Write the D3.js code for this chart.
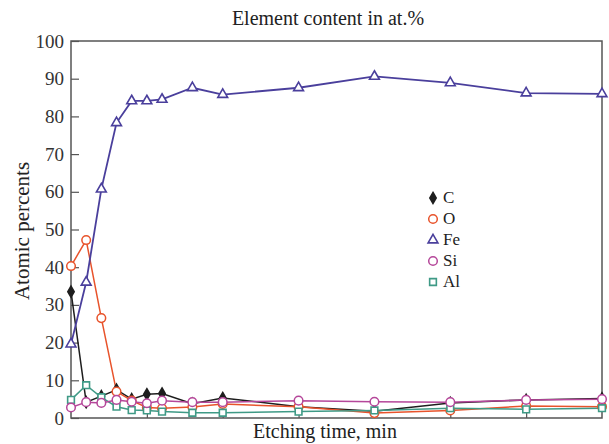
<!DOCTYPE html>
<html><head><meta charset="utf-8">
<script src="https://cdn.jsdelivr.net/npm/d3@7"></script>
<style>body{margin:0;background:#fff}svg{display:block}text{font-family:"Liberation Serif","DejaVu Serif",serif}</style>
</head><body><svg id="c" width="609" height="444"></svg>
<script>
const times = [0,1,2,3,4,5,6,8,10,15,20,25,30,35];
const C  = [33.5,4.2,5.8,7.5,5,6.3,6.5,3.8,5.3,3,1.8,4,4.8,5.2];
const O  = [40.3,47.2,26.5,7,4.6,2.8,2.6,2.9,3.7,3,1.3,2,3.2,3];
const Fe = [19.6,36,60.7,78.3,84.1,84.1,84.5,87.6,85.8,87.6,90.6,88.9,86.2,86];
const Si = [2.8,4.2,4,4.8,4.3,3.9,4.6,4.2,4.2,4.6,4.3,4.2,4.8,5];
const Al = [4.8,8.7,5.5,3,2.1,2,1.7,1.4,1.4,1.7,2,2.6,2.3,2.6];
const seriesNames = ["C","O","Fe","Si","Al"];
const yTicks = [0,10,20,30,40,50,60,70,80,90,100];
const xTicks = [5,10,15,20,25,30];

const colors = {C:"#1e1e1e",O:"#e8532b",Fe:"#4a3f9c",Si:"#b5479a",Al:"#3f9a86"};
const symbols = {C:d3.symbolDiamond,O:"circle",Fe:d3.symbolTriangle,Si:"circle",Al:d3.symbolSquare};
const data = {C,O,Fe,Si,Al};

const svg = d3.select("#c");
const L=71,R=602,T=41,B=418;
const x = d3.scaleLinear().domain([0,35]).range([L,R]);
const y = d3.scaleLinear().domain([0,100]).range([B,T]);

// frame
svg.append("rect").attr("x",L).attr("y",T).attr("width",R-L).attr("height",B-T)
  .attr("fill","none").attr("stroke","#555").attr("stroke-width",1.5);

// y axis
const ya = svg.append("g").attr("transform",`translate(${L},0)`)
  .call(d3.axisLeft(y).tickValues(yTicks).tickSize(-8).tickPadding(7));
ya.select(".domain").remove();
ya.selectAll(".tick line").attr("stroke","#555").attr("stroke-width",1.2);
ya.selectAll(".tick text").attr("font-size",19).attr("fill","#333").attr("font-family","Liberation Serif, serif");

// x axis
const xa = svg.append("g").attr("transform",`translate(0,${B})`)
  .call(d3.axisBottom(x).tickValues(xTicks).tickSize(-5).tickFormat(""));
xa.select(".domain").remove();
xa.selectAll(".tick line").attr("stroke","#555").attr("stroke-width",1.2);

// labels
svg.append("text").attr("x",328).attr("y",25).attr("text-anchor","middle").attr("font-size",20).attr("fill","#222").text("Element content in at.%");
svg.append("text").attr("x",325).attr("y",438).attr("text-anchor","middle").attr("font-size",20).attr("fill","#222").text("Etching time, min");
svg.append("text").attr("transform","translate(29,231) rotate(-90)").attr("text-anchor","middle").attr("font-size",21).attr("fill","#222").text("Atomic percents");

const line = d3.line().x((d,i)=>x(times[i])).y(d=>y(d));
const order = ["C","O","Fe","Al","Si"];
function drawMarker(g,name,cx,cy){
  const col = colors[name];
  if(symbols[name]==="circle"){
    g.append("circle").attr("cx",cx).attr("cy",cy).attr("r",4.3).attr("fill","#fff").attr("stroke",col).attr("stroke-width",1.5);
  } else {
    const size = name==="C"?35:(name==="Fe"?42:45);
    g.append("path").attr("d",d3.symbol().type(symbols[name]).size(size)())
      .attr("transform",`translate(${cx},${cy})`)
      .attr("fill",name==="C"?col:"#fff").attr("stroke",col).attr("stroke-width",1.6);
  }
}
order.forEach(name=>{
  const g = svg.append("g");
  g.append("path").attr("d",line(data[name])).attr("fill","none").attr("stroke",colors[name]).attr("stroke-width",name==="Fe"?1.8:1.5);
});
order.forEach(name=>{
  const g = svg.append("g");
  data[name].forEach((v,i)=>drawMarker(g,name,x(times[i]),y(v)));
});

// legend
const lg = svg.append("g");
seriesNames.forEach((name,i)=>{
  const cy = 198 + i*21;
  drawMarker(lg,name,433,cy);
  lg.append("text").attr("x",443).attr("y",cy+5).attr("font-size",17).attr("fill","#222").text(name);
});
</script></body></html>
